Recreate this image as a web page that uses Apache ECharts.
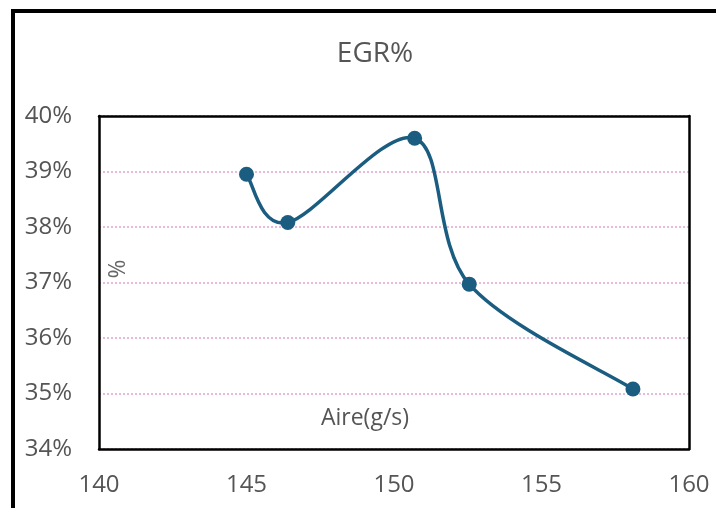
<!DOCTYPE html>
<html>
<head>
<meta charset="utf-8">
<script src="https://cdn.jsdelivr.net/npm/echarts@6/dist/echarts.min.js"></script>
<style>
  html, body { margin: 0; padding: 0; background: #fff; }
  #chart { width: 716px; height: 508px; }
</style>
</head>
<body>
<div id="chart"></div>
<script>
// Air mass flow (g/s) against EGR rate (%)
const airFlow = [145.0, 146.4, 150.7, 152.55, 158.1];
const egrRate = [38.95, 38.08, 39.6, 36.97, 35.08];
const xTicks = [140, 145, 150, 155, 160];
const yTicks = [34, 35, 36, 37, 38, 39, 40];
const titleText = 'EGR%';
const xName = 'Aire(g/s)';
const yName = '%';

const FONT = '"Open Sans", "Noto Sans", sans-serif';
const TEXT = '#555555';
const LINE = '#1b5d80';

const points = airFlow.map((x, i) => [x, egrRate[i]]);

// Smoothed curve segment i -> i+1 (Catmull-Rom style Bezier in pixel space)
function renderSegment(params, api) {
  const i = params.dataIndex;
  if (i >= points.length - 1) return null;
  const P = points.map(p => api.coord(p));
  const p0 = P[Math.max(i - 1, 0)];
  const p1 = P[i];
  const p2 = P[i + 1];
  const p3 = P[Math.min(i + 2, P.length - 1)];
  const k = 1 / 6;
  const c1 = [p1[0] + (p2[0] - p0[0]) * k, p1[1] + (p2[1] - p0[1]) * k];
  const c2 = [p2[0] - (p3[0] - p1[0]) * k, p2[1] - (p3[1] - p1[1]) * k];
  return {
    type: 'bezierCurve',
    shape: { x1: p1[0], y1: p1[1], cpx1: c1[0], cpy1: c1[1], cpx2: c2[0], cpy2: c2[1], x2: p2[0], y2: p2[1] },
    style: { stroke: LINE, lineWidth: 3.5, fill: 'none', lineCap: 'round' },
    silent: true
  };
}

const chart = echarts.init(document.getElementById('chart'), null, { renderer: 'canvas' });

const frameAxis = {
  type: 'value',
  axisLine: { show: true, lineStyle: { color: '#000', width: 2.5 } },
  axisTick: { show: false },
  axisLabel: { show: false },
  splitLine: { show: false }
};

chart.setOption({
  animation: false,
  backgroundColor: '#ffffff',
  title: {
    text: titleText,
    left: 370,
    textAlign: 'center',
    top: 35,
    textStyle: { fontFamily: FONT, fontSize: 28, fontWeight: 'normal', color: TEXT }
  },
  grid: { left: 99, right: 27, top: 116, bottom: 59 },
  xAxis: [{
    type: 'value',
    min: xTicks[0], max: xTicks[xTicks.length - 1], interval: 5,
    axisLine: { show: true, lineStyle: { color: '#000', width: 2.5 } },
    axisTick: { show: false },
    splitLine: { show: false },
    axisLabel: { margin: 24, fontFamily: FONT, fontSize: 24, color: TEXT }
  }, Object.assign({}, frameAxis, {
    position: 'top',
    min: xTicks[0], max: xTicks[xTicks.length - 1], interval: 5
  })],
  yAxis: [{
    type: 'value',
    min: yTicks[0], max: yTicks[yTicks.length - 1], interval: 1,
    axisLine: { show: true, lineStyle: { color: '#000', width: 2.5 } },
    axisTick: { show: false },
    splitLine: { show: true, lineStyle: { color: '#e8b9dd', width: 2, type: [2, 2] } },
    axisLabel: { margin: 27, fontFamily: FONT, fontSize: 24, color: TEXT, formatter: v => v + '%' }
  }, Object.assign({}, frameAxis, {
    position: 'right',
    min: yTicks[0], max: yTicks[yTicks.length - 1], interval: 1
  })],
  graphic: [
    {
      type: 'rect', silent: true, z: 100,
      shape: { x: 13, y: 11, width: 900, height: 700 },
      style: { fill: 'none', stroke: '#000', lineWidth: 4 }
    },
    {
      type: 'text', silent: true, z: 50,
      x: 365, y: 418,
      style: { text: xName, fill: TEXT, font: '23px ' + FONT, textAlign: 'center', textVerticalAlign: 'middle' }
    },
    {
      type: 'text', silent: true, z: 50,
      x: 118, y: 269, rotation: Math.PI / 2,
      style: { text: yName, fill: '#666666', font: '23px ' + FONT, textAlign: 'center', textVerticalAlign: 'middle' }
    }
  ],
  series: [{
    type: 'custom',
    xAxisIndex: 0, yAxisIndex: 0,
    renderItem: renderSegment,
    data: points,
    z: 2
  }, {
    type: 'scatter',
    xAxisIndex: 0, yAxisIndex: 0,
    data: points,
    symbol: 'circle',
    symbolSize: 15,
    itemStyle: { color: LINE, opacity: 1 },
    z: 3
  }]
});
</script>
</body>
</html>
